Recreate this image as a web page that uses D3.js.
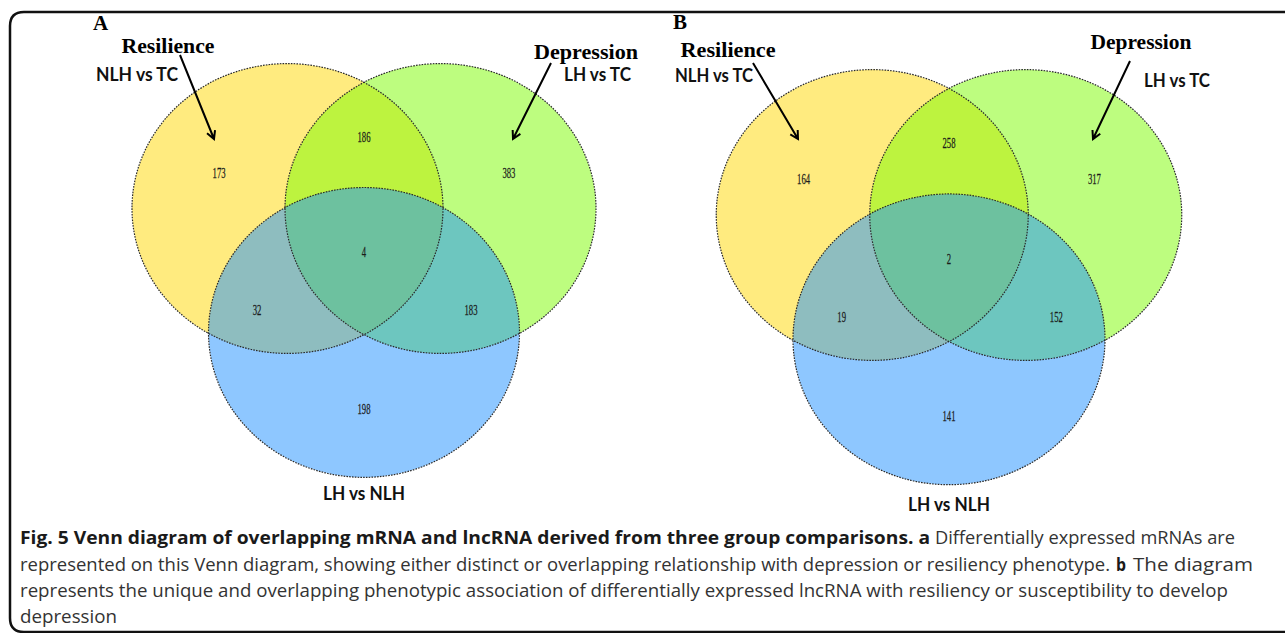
<!DOCTYPE html>
<html>
<head>
<meta charset="utf-8">
<script src="https://cdn.jsdelivr.net/npm/d3@7"></script>
<style>
  html, body { margin: 0; padding: 0; background: #fff; }
  svg { display: block; }
</style>
</head>
<body>
<svg id="fig" width="1285" height="633"></svg>
<script>
// ---- data ----
const setNames = ["NLH vs TC", "LH vs TC", "LH vs NLH"];
const phenotypes = ["Resilience", "Depression"];
const panelLetters = ["A", "B"];
// region order: NLH vs TC only, LH vs TC only, LH vs NLH only,
// NLH&LH vs TC, NLH vs TC & LH vs NLH, LH vs TC & LH vs NLH, all three
const regionKeys = ["100", "010", "001", "110", "101", "011", "111"];
const mrnaCounts = [173, 383, 198, 186, 32, 183, 4];
const lncrnaCounts = [164, 317, 141, 258, 19, 152, 2];
const setColors = ["#FFD700", "#7CFC00", "#1E90FF"];

// caption runs: [text, bold, x start, width]
const captionLines = [
  { y: 544, runs: [
    ["Fig. 5 Venn diagram of overlapping mRNA and lncRNA derived from three group comparisons. a", true, 20, 910],
    ["Differentially expressed mRNAs are", false, 935, 300]] },
  { y: 571, runs: [
    ["represented on this Venn diagram, showing either distinct or overlapping relationship with depression or resiliency phenotype.", false, 20, 1090],
    ["b", true, 1116, 10],
    ["The diagram", false, 1133, 120]] },
  { y: 597, runs: [
    ["represents the unique and overlapping phenotypic association of differentially expressed lncRNA with resiliency or susceptibility to develop", false, 20, 1208]] },
  { y: 623, runs: [
    ["depression", false, 20, 97]] }
];

// ---- geometry in Venn units (ellipse x-radius = 1) ----
const ellipses = [
  { cx: -0.492, cy: 0, rx: 1, ry: 0.932 },
  { cx: 0.492, cy: 0, rx: 1, ry: 0.932 },
  { cx: 0, cy: 0.797, rx: 1, ry: 0.932 }
];
const regionAnchor = {
  "100": [-0.932, -0.232],
  "010": [0.932, -0.232],
  "001": [0, 1.286],
  "110": [0, -0.463],
  "101": [-0.688, 0.65],
  "011": [0.688, 0.65],
  "111": [0, 0.277]
};

const panels = [
  {
    counts: mrnaCounts, letter: panelLetters[0], ox: 364, oy: 208.5, unit: 155.5,
    letterPos: [93, 30],
    res: { x: 168, y: 53, w: 93 }, dep: { x: 586, y: 59, w: 104 },
    resSet: { x: 96, y: 81, w: 82 }, depSet: { x: 564, y: 81, w: 67 },
    bottomSet: { y: 500, w: 82 },
    resArrow: [[180, 55], [214, 139]], depArrow: [[551, 63], [513, 139]]
  },
  {
    counts: lncrnaCounts, letter: panelLetters[1], ox: 949, oy: 215, unit: 156,
    letterPos: [673, 29],
    res: { x: 728, y: 57, w: 95 }, dep: { x: 1141, y: 49, w: 101 },
    resSet: { x: 675, y: 82, w: 78 }, depSet: { x: 1144, y: 87, w: 66 },
    bottomSet: { y: 511, w: 82 },
    resArrow: [[753, 63], [798, 139]], depArrow: [[1130, 61], [1093, 139]]
  }
];

const svg = d3.select("#fig");

// figure frame (open on the right)
const fr = { x: 10, top: 12, bottom: 632, r: 14 };
svg.append("path")
  .attr("d", `M1290,${fr.top} H${fr.x + fr.r} Q${fr.x},${fr.top} ${fr.x},${fr.top + fr.r} V${fr.bottom - fr.r} Q${fr.x},${fr.bottom} ${fr.x + fr.r},${fr.bottom} H1290`)
  .attr("fill", "none").attr("stroke", "#111").attr("stroke-width", 2.5);

function arrow(g, a, b) {
  const ang = Math.atan2(b[1] - a[1], b[0] - a[0]);
  const L = 9, spread = 0.5;
  const p1 = [b[0] - L * Math.cos(ang - spread), b[1] - L * Math.sin(ang - spread)];
  const p2 = [b[0] - L * Math.cos(ang + spread), b[1] - L * Math.sin(ang + spread)];
  g.append("path")
    .attr("d", d3.line()([a, b]) + " " + d3.line()([p1, b, p2]))
    .attr("fill", "none").attr("stroke", "#000").attr("stroke-width", 2)
    .attr("stroke-linejoin", "miter");
}

panels.forEach(p => {
  const x = d3.scaleLinear().domain([0, 1]).range([p.ox, p.ox + p.unit]);
  const y = d3.scaleLinear().domain([0, 1]).range([p.oy, p.oy + p.unit]);
  const k = x(1) - x(0);
  const g = svg.append("g");

  // translucent set fills
  g.selectAll("ellipse.fill").data(ellipses).join("ellipse")
    .attr("class", "fill")
    .attr("cx", d => x(d.cx)).attr("cy", d => y(d.cy))
    .attr("rx", d => d.rx * k).attr("ry", d => d.ry * k)
    .attr("fill", (d, i) => setColors[i]).attr("fill-opacity", 0.5);

  // dotted outlines on top
  g.selectAll("ellipse.edge").data(ellipses).join("ellipse")
    .attr("class", "edge")
    .attr("cx", d => x(d.cx)).attr("cy", d => y(d.cy))
    .attr("rx", d => d.rx * k).attr("ry", d => d.ry * k)
    .attr("fill", "none").attr("stroke", "#2a2a2a").attr("stroke-width", 1.2)
    .attr("stroke-dasharray", "1.6,1.2");

  // region counts
  g.selectAll("text.count").data(regionKeys).join("text")
    .attr("class", "count")
    .attr("transform", (key) => `translate(${x(regionAnchor[key][0])},${y(regionAnchor[key][1]) + 5.5}) scale(0.56,1)`)
    .attr("text-anchor", "middle")
    .attr("font-family", "'Liberation Serif', 'Times New Roman', serif")
    .attr("font-size", 15.5).attr("fill", "#1a1a1a")
    .attr("stroke", "#1a1a1a").attr("stroke-width", 0.25)
    .text((key, i) => p.counts[i]);

  // panel letter
  g.append("text").attr("x", p.letterPos[0]).attr("y", p.letterPos[1])
    .attr("font-family", "'Liberation Serif', serif").attr("font-weight", "bold")
    .attr("font-size", 21).text(p.letter);

  // phenotype labels (serif bold)
  [[phenotypes[0], p.res], [phenotypes[1], p.dep]].forEach(([t, pos]) => {
    g.append("text").attr("x", pos.x).attr("y", pos.y)
      .attr("text-anchor", "middle")
      .attr("font-family", "'Liberation Serif', serif").attr("font-weight", "bold")
      .attr("font-size", 20.5)
      .attr("textLength", pos.w).attr("lengthAdjust", "spacingAndGlyphs")
      .text(t);
  });

  // comparison labels (sans bold)
  [[setNames[0], p.resSet], [setNames[1], p.depSet]].forEach(([t, pos]) => {
    g.append("text").attr("x", pos.x).attr("y", pos.y)
      .attr("font-family", "Lato, 'Open Sans', sans-serif").attr("font-weight", "bold")
      .attr("font-size", 18).attr("fill", "#111")
      .attr("textLength", pos.w).attr("lengthAdjust", "spacingAndGlyphs")
      .text(t);
  });
  g.append("text").attr("x", x(ellipses[2].cx)).attr("y", p.bottomSet.y)
    .attr("text-anchor", "middle")
    .attr("font-family", "Lato, 'Open Sans', sans-serif").attr("font-weight", "bold")
    .attr("font-size", 18).attr("fill", "#111")
    .attr("textLength", p.bottomSet.w).attr("lengthAdjust", "spacingAndGlyphs")
    .text(setNames[2]);

  arrow(g, p.resArrow[0], p.resArrow[1]);
  arrow(g, p.depArrow[0], p.depArrow[1]);
});

// caption
captionLines.forEach(line => {
  line.runs.forEach(([s, bold, x0, w]) => {
    svg.append("text").attr("x", x0).attr("y", line.y)
      .attr("font-family", "'Open Sans', 'Noto Sans', sans-serif")
      .attr("font-size", 18)
      .attr("font-weight", bold ? "bold" : "normal")
      .attr("fill", bold ? "#1a1a1a" : "#333")
      .attr("textLength", w).attr("lengthAdjust", "spacingAndGlyphs")
      .text(s);
  });
});
</script>
</body>
</html>
